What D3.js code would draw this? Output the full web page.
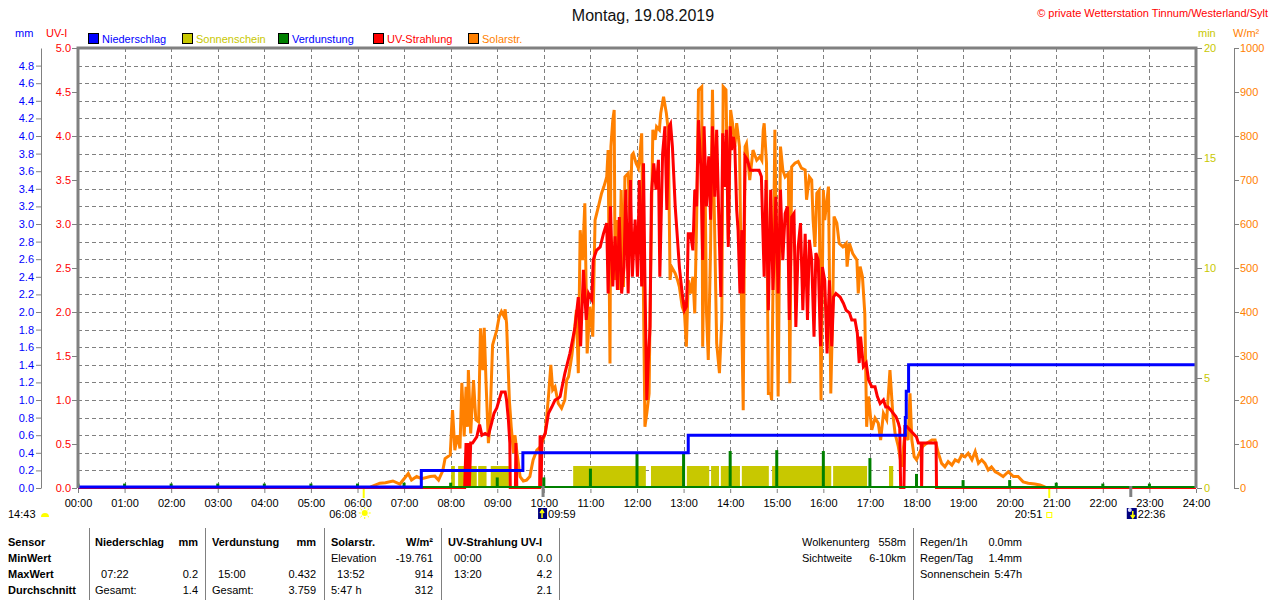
<!DOCTYPE html>
<html>
<head>
<meta charset="utf-8">
<script src="https://cdn.jsdelivr.net/npm/d3@7"></script>
<style>
body { margin: 0; background: #fff; }
svg text { font-family: "Liberation Sans", Arial, sans-serif; font-size: 11px; }
</style>
</head>
<body>
<svg id="chart" width="1280" height="600"></svg>
<script>
// ---- data ----
const hours = [0,1,2,3,4,5,6,7,8,9,10,11,12,13,14,15,16,17,18,19,20,21,22,23,24];
const mmTicks = [0,0.2,0.4,0.6,0.8,1,1.2,1.4,1.6,1.8,2,2.2,2.4,2.6,2.8,3,3.2,3.4,3.6,3.8,4,4.2,4.4,4.6,4.8];
const uvTicks = [0,0.5,1,1.5,2,2.5,3,3.5,4,4.5,5];
const minTicks = [0,5,10,15,20];
const solTicks = [0,100,200,300,400,500,600,700,800,900,1000];

const legendNames = ['Niederschlag', 'Sonnenschein', 'Verdunstung', 'UV-Strahlung', 'Solarstr.'];

// Niederschlag, cumulative mm (step line)
const rainTimes = [0, 7.37, 9.55, 13.10, 17.76, 17.78, 17.83, 24];
const rainValues = [0, 0.2, 0.4, 0.6, 0.8, 1.1, 1.4, 1.4];

// Sonnenschein, minutes, blocks [start h, end h]
const sunStart = [8.01, 8.16, 8.34, 8.59, 8.86, 10.63, 12.30, 13.07, 13.59, 13.80, 14.25, 14.90, 16.21, 17.41];
const sunEnd   = [8.09, 8.31, 8.56, 8.77, 9.25, 12.19, 12.99, 13.55, 13.76, 14.21, 14.83, 16.17, 16.94, 17.50];
const sunMinutes = [1,1,1,1,1,1,1,1,1,1,1,1,1,1];

// Verdunstung, mm per hour
const evapHours  = [0,1,2,3,4,5,6,7,8,9,10,11,12,13,14,15,16,17,18,19,20,21,22,23];
const evapValues = [0.05,0.05,0.05,0.05,0.05,0.05,0.05,0.06,0.06,0.12,0.12,0.22,0.39,0.39,0.42,0.43,0.42,0.34,0.16,0.09,0.09,0.06,0.05,0.05];

// Solarstrahlung [h, W/m2]
const solarPoints = [
  [0,0],[6.25,0],[6.30,3],[6.48,11],[6.60,12],[6.76,16],[6.91,9],[7.09,33],[7.16,18],[7.27,26],
  [7.38,21],[7.56,26],[7.66,27],[7.74,18],[7.83,39],[7.88,67],[7.99,75],[8.04,177],[8.09,86],[8.14,120],
  [8.20,90],[8.24,239],[8.29,117],[8.33,230],[8.36,139],[8.38,268],[8.43,124],[8.49,245],[8.54,155],[8.60,150],
  [8.64,363],[8.69,268],[8.72,364],[8.76,238],[8.81,102],[8.84,139],[8.90,325],[8.99,359],[9.04,389],[9.09,401],
  [9.14,391],[9.17,406],[9.20,374],[9.26,200],[9.30,139],[9.35,79],[9.38,120],[9.42,83],[9.49,26],[9.56,16],
  [9.63,18],[9.70,26],[9.74,48],[9.77,64],[9.85,86],[9.93,94],[10.03,124],[10.10,208],[10.15,280],[10.19,223],
  [10.24,230],[10.31,192],[10.38,181],[10.45,200],[10.49,245],[10.53,253],[10.60,300],[10.63,329],[10.70,405],[10.74,261],
  [10.78,586],[10.83,518],[10.88,647],[10.93,306],[10.99,412],[11.05,344],[11.10,609],[11.17,639],[11.24,670],[11.29,685],
  [11.35,707],[11.38,768],[11.42,283],[11.44,776],[11.48,836],[11.51,859],[11.53,473],[11.58,609],[11.62,450],[11.66,677],
  [11.71,457],[11.74,707],[11.81,715],[11.85,609],[11.89,757],[11.92,761],[11.98,738],[12.03,727],[12.06,753],[12.10,806],
  [12.17,139],[12.21,170],[12.26,215],[12.28,397],[12.34,814],[12.39,791],[12.42,821],[12.48,814],[12.51,852],[12.57,889],
  [12.63,852],[12.67,814],[12.71,473],[12.74,503],[12.82,488],[12.87,473],[12.91,457],[12.97,412],[13.02,397],[13.06,321],
  [13.10,473],[13.15,442],[13.20,480],[13.24,397],[13.28,609],[13.32,905],[13.39,912],[13.41,321],[13.46,715],[13.49,405],
  [13.53,291],[13.58,548],[13.62,905],[13.65,685],[13.71,329],[13.77,261],[13.82,382],[13.85,912],[13.91,905],[13.96,564],
  [14.01,859],[14.05,829],[14.10,776],[14.14,829],[14.20,776],[14.25,374],[14.28,177],[14.32,776],[14.35,783],[14.42,700],
  [14.49,768],[14.57,745],[14.64,753],[14.68,745],[14.71,814],[14.73,829],[14.78,738],[14.82,215],[14.87,215],[14.89,200],
  [14.96,814],[15.03,208],[15.08,776],[15.13,723],[15.18,707],[15.25,715],[15.28,238],[15.32,730],[15.39,738],[15.46,742],
  [15.53,727],[15.61,723],[15.64,655],[15.70,707],[15.75,700],[15.78,609],[15.82,548],[15.86,670],[15.91,677],[15.95,200],
  [16.00,677],[16.03,609],[16.11,685],[16.16,215],[16.20,397],[16.23,617],[16.29,602],[16.34,556],[16.42,548],[16.49,556],
  [16.51,503],[16.56,556],[16.63,533],[16.72,518],[16.75,442],[16.79,503],[16.84,480],[16.89,397],[16.93,139],[16.97,208],
  [17.04,132],[17.11,159],[17.18,147],[17.23,109],[17.29,170],[17.36,155],[17.43,268],[17.49,170],[17.54,124],[17.61,94],
  [17.68,48],[17.75,124],[17.82,109],[17.86,215],[17.90,109],[17.95,71],[18.00,64],[18.06,79],[18.13,94],[18.22,102],
  [18.33,109],[18.40,109],[18.47,79],[18.54,56],[18.61,48],[18.68,60],[18.76,52],[18.83,64],[18.90,60],[18.97,75],
  [19.04,71],[19.11,79],[19.19,64],[19.26,83],[19.33,56],[19.40,64],[19.47,56],[19.54,41],[19.61,48],[19.69,37],
  [19.76,33],[19.86,26],[19.97,37],[20.08,26],[20.18,26],[20.29,14],[20.40,11],[20.54,9],[20.65,7],[20.74,3],
  [20.80,0],[24,0]
];

// UV-Strahlung [h, UV-I]
const uvPoints = [
  [0,0],[8.30,0],[8.33,0.51],[8.35,0],[8.38,0.51],[8.40,0],[8.43,0.51],[8.47,0.51],[8.56,0.58],[8.62,0.72],
  [8.67,0.60],[8.74,0.62],[8.81,0.60],[8.88,0.74],[8.93,0.85],[8.99,0.91],[9.04,1.00],[9.09,1.09],[9.17,1.09],[9.20,1.00],
  [9.24,0.77],[9.27,0.51],[9.28,0],[9.39,0],[9.40,0.51],[9.42,0],[9.91,0],[9.92,0.60],[9.94,0],[9.96,0.55],
  [10.03,0.62],[10.10,0.85],[10.17,0.92],[10.24,1.00],[10.31,1.02],[10.35,1.04],[10.45,1.30],[10.56,1.53],[10.67,1.83],[10.74,2.17],
  [10.79,1.61],[10.85,2.48],[10.91,1.91],[10.96,2.21],[11.03,2.14],[11.06,2.59],[11.13,2.70],[11.21,2.74],[11.28,2.89],[11.35,3.01],
  [11.38,2.21],[11.43,3.20],[11.48,2.29],[11.53,2.86],[11.58,2.25],[11.62,3.08],[11.67,2.21],[11.72,2.51],[11.76,3.39],[11.81,2.21],
  [11.86,3.50],[11.90,2.40],[11.96,3.05],[12.01,2.40],[12.05,3.50],[12.10,2.29],[12.14,3.69],[12.17,2.36],[12.21,1.00],[12.24,1.42],
  [12.28,1.83],[12.31,3.35],[12.36,3.69],[12.41,3.39],[12.46,3.73],[12.49,2.40],[12.55,3.80],[12.60,4.11],[12.64,3.16],[12.69,4.11],
  [12.72,4.14],[12.76,3.88],[12.82,3.20],[12.87,2.82],[12.91,2.51],[12.97,2.21],[13.02,2.02],[13.06,2.06],[13.08,2.36],[13.10,2.89],
  [13.15,2.89],[13.20,2.70],[13.24,3.39],[13.28,3.20],[13.32,4.18],[13.37,3.65],[13.41,2.59],[13.44,4.11],[13.49,3.20],[13.54,3.77],
  [13.58,3.05],[13.62,4.11],[13.67,3.31],[13.71,4.07],[13.75,3.20],[13.80,2.17],[13.84,4.03],[13.89,3.42],[13.92,4.07],[13.96,2.74],
  [14.00,4.11],[14.03,3.84],[14.07,3.99],[14.10,3.88],[14.14,3.16],[14.17,2.93],[14.21,2.21],[14.25,2.93],[14.28,2.21],[14.32,3.77],
  [14.37,3.73],[14.43,3.61],[14.50,3.61],[14.57,3.61],[14.62,3.61],[14.67,3.54],[14.73,2.40],[14.77,3.50],[14.82,2.02],[14.87,3.39],
  [14.92,2.25],[14.98,3.31],[15.03,2.21],[15.08,3.39],[15.13,2.59],[15.18,3.12],[15.23,3.20],[15.27,1.91],[15.32,3.08],[15.37,3.12],
  [15.41,1.83],[15.46,2.74],[15.51,3.01],[15.56,2.02],[15.61,2.89],[15.66,1.91],[15.70,2.82],[15.75,2.59],[15.80,1.72],[15.84,2.67],
  [15.89,2.59],[15.94,1.61],[15.98,2.51],[16.03,2.36],[16.08,1.53],[16.13,2.36],[16.18,1.61],[16.22,2.17],[16.27,2.21],[16.36,2.17],
  [16.43,2.10],[16.49,2.02],[16.56,1.99],[16.61,1.91],[16.68,1.91],[16.73,1.76],[16.77,1.42],[16.80,1.72],[16.86,1.38],[16.92,1.42],
  [16.97,1.23],[17.04,1.15],[17.11,1.15],[17.16,1.04],[17.22,0.96],[17.29,1.00],[17.34,0.92],[17.39,0.92],[17.44,0.89],[17.50,0.85],
  [17.56,0.81],[17.61,0.74],[17.64,0.68],[17.66,0],[17.73,0],[17.75,0.70],[17.79,0.70],[17.86,0.66],[17.93,0.62],[18.00,0.58],
  [18.04,0.51],[18.10,0.51],[18.11,0],[18.12,0.51],[18.42,0.51],[18.43,0],[24,0]
];

// sun / moon times below the axis
const sunriseTime = 6 + 8 / 60, sunsetTime = 20 + 51 / 60;
const moonriseTime = 9 + 59 / 60, moonsetTime = 22 + 36 / 60;
const dayLength = '14:43';

// statistics table
const tableHeader = ['Sensor', 'Niederschlag', 'mm', 'Verdunstung', 'mm', 'Solarstr.', 'W/m²', 'UV-Strahlung UV-I', ''];
const tableRows = [
  ['MinWert', '', '', '', '', 'Elevation', '-19.761', '\u00a0\u00a000:00', '0.0'],
  ['MaxWert', '\u00a0\u00a007:22', '0.2', '\u00a0\u00a015:00', '0.432', '\u00a0\u00a013:52', '914', '\u00a0\u00a013:20', '4.2'],
  ['Durchschnitt', 'Gesamt:', '1.4', 'Gesamt:', '3.759', '5:47 h', '312', '', '2.1']
];
const extraRows = [
  ['Wolkenunterg', '558m', 'Regen/1h', '0.0mm'],
  ['Sichtweite', '6-10km', 'Regen/Tag', '1.4mm'],
  ['', '', 'Sonnenschein', '5:47h']
];

// ---- drawing ----
const C = { rain: '#0000ff', sun: '#c8c800', evap: '#008000', uv: '#ff0000', sol: '#ff8000', grid: '#808080' };
const legendColors = [C.rain, C.sun, C.evap, C.uv, C.sol];
const legendText = [C.rain, C.sun, C.rain, C.uv, C.sol];

const svg = d3.select('#chart');
const plot = { left: 78, right: 1196, top: 48, bottom: 488 };

const x = d3.scaleLinear().domain([0, 24]).range([plot.left, plot.right]);
const yMM = d3.scaleLinear().domain([0, 5]).range([plot.bottom, plot.top]);
const yUV = d3.scaleLinear().domain([0, 5]).range([plot.bottom, plot.top]);
const yMin = d3.scaleLinear().domain([0, 20]).range([plot.bottom, plot.top]);
const ySol = d3.scaleLinear().domain([0, 1000]).range([plot.bottom, plot.top]);

svg.append('rect').attr('width', 1280).attr('height', 600).attr('fill', '#fff');

// title
svg.append('text').attr('x', 643).attr('y', 21).attr('text-anchor', 'middle')
    .style('font-size', '16px').attr('fill', '#111').text('Montag, 19.08.2019');
svg.append('text').attr('x', 1268).attr('y', 17).attr('text-anchor', 'end')
    .attr('fill', C.uv).text('© private Wetterstation Tinnum/Westerland/Sylt');

// axis unit labels
svg.append('text').attr('x', 15).attr('y', 37).attr('fill', C.rain).text('mm');
svg.append('text').attr('x', 46).attr('y', 37).attr('fill', C.uv).text('UV-I');
svg.append('text').attr('x', 1198).attr('y', 37).attr('fill', C.sun).text('min');
svg.append('text').attr('x', 1233).attr('y', 37).attr('fill', C.sol).text('W/m²');

// legend
const legendX = [88, 182, 278, 373, 468];
const leg = svg.selectAll('g.leg').data(legendNames).enter().append('g')
    .attr('transform', (d, i) => `translate(${legendX[i]},0)`);
leg.append('rect').attr('x', 0.5).attr('y', 33.5).attr('width', 10).attr('height', 10)
    .attr('fill', (d, i) => legendColors[i]).attr('stroke', '#000');
leg.append('text').attr('x', 14).attr('y', 43).attr('fill', (d, i) => legendText[i]).text(d => d);

// grid
const grid = svg.append('g').attr('stroke', C.grid).attr('stroke-dasharray', '4,3').attr('stroke-width', 1);
grid.selectAll('line.h').data(mmTicks.filter(v => v > 0)).enter().append('line')
    .attr('x1', plot.left).attr('x2', plot.right)
    .attr('y1', d => Math.round(yMM(d)) + 0.5).attr('y2', d => Math.round(yMM(d)) + 0.5);
grid.selectAll('line.v').data(hours.filter(h => h > 0 && h < 24)).enter().append('line')
    .attr('y1', plot.top).attr('y2', plot.bottom)
    .attr('x1', d => Math.round(x(d)) + 0.5).attr('x2', d => Math.round(x(d)) + 0.5);

svg.append('clipPath').attr('id', 'clip').append('rect')
    .attr('x', plot.left).attr('y', plot.top - 2).attr('width', plot.right - plot.left).attr('height', plot.bottom - plot.top + 3);
const g = svg.append('g').attr('clip-path', 'url(#clip)');

// Sonnenschein blocks
g.selectAll('rect.sun').data(sunStart).enter().append('rect')
    .attr('x', (d, i) => x(d)).attr('width', (d, i) => x(sunEnd[i]) - x(d))
    .attr('y', (d, i) => yMin(sunMinutes[i])).attr('height', (d, i) => yMin(0) - yMin(sunMinutes[i]))
    .attr('fill', C.sun);

// Solar
g.append('path').datum(solarPoints)
    .attr('fill', 'none').attr('stroke', C.sol).attr('stroke-width', 3).attr('stroke-linejoin', 'miter')
    .attr('d', d3.line().x(d => x(d[0])).y(d => ySol(d[1])));

// UV
g.append('path').datum(uvPoints)
    .attr('fill', 'none').attr('stroke', C.uv).attr('stroke-width', 3)
    .attr('d', d3.line().x(d => x(d[0])).y(d => yUV(d[1])));

// Verdunstung
g.append('line').attr('x1', plot.left).attr('x2', plot.right).attr('y1', plot.bottom - 1).attr('y2', plot.bottom - 1)
    .attr('stroke', C.evap).attr('stroke-width', 2);
g.selectAll('rect.evap').data(evapHours).enter().append('rect')
    .attr('x', d => x(d) - 1.5).attr('width', 3)
    .attr('y', (d, i) => yMM(evapValues[i])).attr('height', (d, i) => yMM(0) - yMM(evapValues[i]))
    .attr('fill', C.evap);

// Niederschlag
g.append('path').datum(rainTimes.map((t, i) => [t, rainValues[i]]))
    .attr('fill', 'none').attr('stroke', C.rain).attr('stroke-width', 3)
    .attr('d', d3.line().curve(d3.curveStepAfter).x(d => x(d[0])).y(d => Math.min(yMM(d[1]), plot.bottom - 1)));

// frame
const frame = svg.append('g').attr('stroke', C.grid).attr('fill', 'none');
frame.append('path').attr('stroke-width', 3)
    .attr('d', `M${plot.left},${plot.bottom} V${plot.top} H${plot.right} V${plot.bottom}`);

function styleAxis(sel, color) {
    sel.attr('font-family', '"Liberation Sans", Arial, sans-serif').attr('font-size', 11);
    sel.selectAll('line').attr('stroke', C.grid);
    sel.selectAll('path.domain').attr('stroke', C.grid);
    sel.selectAll('text').attr('fill', color);
}

// left axes
svg.append('g').attr('transform', 'translate(41,0)')
    .call(d3.axisLeft(yMM).tickValues(mmTicks).tickFormat(d3.format('.1f')).tickSize(5).tickSizeOuter(0).tickPadding(2))
    .call(s => styleAxis(s, C.rain));
svg.append('g').attr('transform', `translate(${plot.left - 1},0)`)
    .call(d3.axisLeft(yUV).tickValues(uvTicks).tickFormat(d3.format('.1f')).tickSize(5).tickPadding(1))
    .call(s => s.select('.domain').remove())
    .call(s => styleAxis(s, C.uv));

// right axes
svg.append('g').attr('transform', `translate(${plot.right + 1},0)`)
    .call(d3.axisRight(yMin).tickValues(minTicks).tickFormat(d3.format('d')).tickSize(5).tickPadding(2))
    .call(s => s.select('.domain').remove())
    .call(s => styleAxis(s, C.sun));
svg.append('g').attr('transform', 'translate(1234,0)')
    .call(d3.axisRight(ySol).tickValues(solTicks).tickFormat(d3.format('d')).tickSize(5).tickSizeOuter(0).tickPadding(1))
    .call(s => styleAxis(s, C.sol));

// x axis
svg.append('g').attr('transform', `translate(0,${plot.bottom + 1})`)
    .call(d3.axisBottom(x).tickValues(hours).tickFormat(d => String(d).padStart(2, '0') + ':00').tickSize(4).tickPadding(6))
    .call(s => s.select('.domain').remove())
    .call(s => styleAxis(s, '#000'));

// sun and moon markers
const marks = svg.append('g');
[sunriseTime, sunsetTime].forEach(t => {
    marks.append('line').attr('x1', x(t)).attr('x2', x(t)).attr('y1', 489).attr('y2', 498)
        .attr('stroke', '#ffff00').attr('stroke-width', 2);
});
[moonriseTime, moonsetTime].forEach(t => {
    marks.append('line').attr('x1', x(t)).attr('x2', x(t)).attr('y1', 486).attr('y2', 497)
        .attr('stroke', C.grid).attr('stroke-width', 3);
});
// day length
marks.append('text').attr('x', 8).attr('y', 518).text(dayLength);
marks.append('path').attr('d', 'M41,517 A4,4 0 0 1 49,517 Z').attr('fill', '#ffff00');
// sunrise
marks.append('text').attr('x', x(sunriseTime) - 7).attr('y', 518).attr('text-anchor', 'end').text('06:08');
marks.append('circle').attr('cx', x(sunriseTime) + 1).attr('cy', 513).attr('r', 3).attr('fill', '#ffff00');
d3.range(8).forEach(k => {
    const a = k * Math.PI / 4;
    marks.append('line').attr('x1', x(sunriseTime) + 1 + 4 * Math.cos(a)).attr('y1', 513 + 4 * Math.sin(a))
        .attr('x2', x(sunriseTime) + 1 + 6 * Math.cos(a)).attr('y2', 513 + 6 * Math.sin(a))
        .attr('stroke', '#ffff00').attr('stroke-width', 1);
});
// moonrise
marks.append('rect').attr('x', x(moonriseTime) - 5).attr('y', 508).attr('width', 9).attr('height', 11).attr('fill', '#000080');
marks.append('path').attr('d', `M${x(moonriseTime) - 1},518 V511 M${x(moonriseTime) - 3},513 L${x(moonriseTime) - 1},510 L${x(moonriseTime) + 1},513`)
    .attr('stroke', '#ffff00').attr('stroke-width', 1.5).attr('fill', 'none');
marks.append('text').attr('x', x(moonriseTime) + 5).attr('y', 518).text('09:59');
// sunset
marks.append('text').attr('x', x(sunsetTime) - 7).attr('y', 518).attr('text-anchor', 'end').text('20:51');
marks.append('rect').attr('x', x(sunsetTime) - 2.5).attr('y', 512.5).attr('width', 5).attr('height', 5)
    .attr('fill', 'none').attr('stroke', '#ffff00');
// moonset
marks.append('rect').attr('x', x(moonsetTime) - 4).attr('y', 508).attr('width', 10).attr('height', 11).attr('fill', '#000080');
marks.append('circle').attr('cx', x(moonsetTime) - 1).attr('cy', 510).attr('r', 2).attr('fill', '#ddddff');
marks.append('path').attr('d', `M${x(moonsetTime) + 2},511 V518 M${x(moonsetTime)},515 L${x(moonsetTime) + 2},518 L${x(moonsetTime) + 4},515`)
    .attr('stroke', '#ffff00').attr('stroke-width', 1.5).attr('fill', 'none');
marks.append('text').attr('x', x(moonsetTime) + 7).attr('y', 518).text('22:36');

// statistics table
const colX = [8, 95, 198, 212, 316, 331, 433, 448, 552];
const colEnd = [false, false, true, false, true, false, true, false, true];
const rowY = [546, 562, 578, 594];
const table = svg.append('g');
[tableHeader].concat(tableRows).forEach((row, r) => {
    row.forEach((cell, c) => {
        if (!cell) return;
        table.append('text').attr('x', colX[c]).attr('y', rowY[r])
            .attr('text-anchor', colEnd[c] ? 'end' : 'start')
            .attr('font-weight', (r === 0 || c === 0) ? 'bold' : 'normal')
            .attr('fill', '#000').text(cell);
    });
});
const exX = [802, 906, 920, 1022];
const exEnd = [false, true, false, true];
extraRows.forEach((row, r) => {
    row.forEach((cell, c) => {
        if (!cell) return;
        table.append('text').attr('x', exX[c]).attr('y', rowY[r])
            .attr('text-anchor', exEnd[c] ? 'end' : 'start').attr('fill', '#000').text(cell);
    });
});
[89, 205, 324, 441, 559, 913].forEach(sx => {
    table.append('line').attr('x1', sx + 0.5).attr('x2', sx + 0.5).attr('y1', 528).attr('y2', 600)
        .attr('stroke', C.grid);
});
</script>
</body>
</html>
